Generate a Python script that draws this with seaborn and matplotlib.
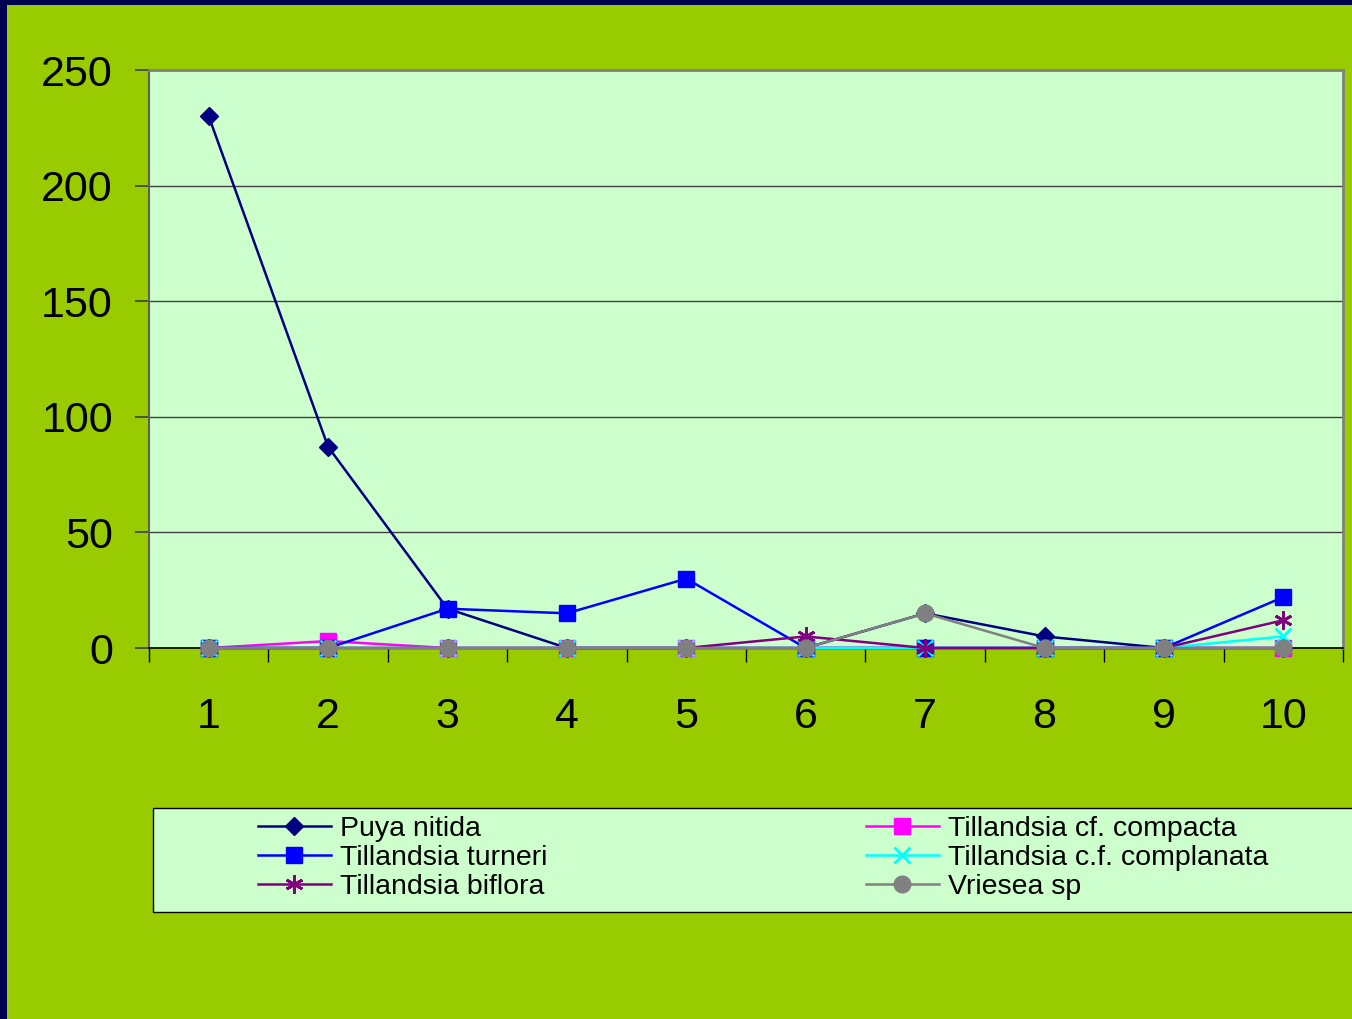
import numpy as np
import pandas as pd
import matplotlib
matplotlib.use("Agg")
import matplotlib.pyplot as plt
import seaborn as sns
from matplotlib.patches import Rectangle
from matplotlib.ticker import FixedLocator

# data
sites = [1, 2, 3, 4, 5, 6, 7, 8, 9, 10]
puya_nitida = [230, 87, 17, 0, 0, 0, 15, 5, 0, 0]
tillandsia_compacta = [0, 3, 0, 0, 0, 0, 0, 0, 0, 0]
tillandsia_turneri = [0, 0, 17, 15, 30, 0, 0, 0, 0, 22]
tillandsia_complanata = [0, 0, 0, 0, 0, 0, 0, 0, 0, 5]
tillandsia_biflora = [0, 0, 0, 0, 0, 5, 0, 0, 0, 12]
vriesea_sp = [0, 0, 0, 0, 0, 0, 15, 0, 0, 0]
y_ticks = [0, 50, 100, 150, 200, 250]

series = [
    ("Puya nitida", puya_nitida, "#000080", "D", 9.5),
    ("Tillandsia cf. compacta", tillandsia_compacta, "#FF00FF", "s", 11),
    ("Tillandsia turneri", tillandsia_turneri, "#0000FF", "s", 11),
    ("Tillandsia c.f. complanata", tillandsia_complanata, "#00FFFF", "x", 11),
    ("Tillandsia biflora", tillandsia_biflora, "#800080", (6, 2, 0), 13),
    ("Vriesea sp", vriesea_sp, "#808080", "o", 12),
]

plt.rcParams['font.family'] = ['Liberation Sans', 'DejaVu Sans']

fig = plt.figure(figsize=(13.52, 10.19), dpi=100, facecolor="#99CC00")
ax = fig.add_axes([149 / 1352, 1 - 648 / 1019, (1343 - 149) / 1352, (648 - 70) / 1019])
ax.set_facecolor("#CCFFCC")

for name, vals, color, marker, ms in series:
    df = pd.DataFrame({"site": sites, "count": vals})
    sns.lineplot(data=df, x="site", y="count", ax=ax, color=color, marker=marker,
                 markersize=ms, markeredgecolor=color,
                 markeredgewidth=2 if marker in ("x", (6, 2, 0)) else 1,
                 linewidth=1.8, label=name, clip_on=False, zorder=3)

ax.set_xlim(0.5, 10.5)
ax.set_ylim(0, 250)
ax.set_xlabel("")
ax.set_ylabel("")

ax.set_xticks(sites)
ax.set_xticklabels([str(s) for s in sites], fontsize=31)
ax.xaxis.set_minor_locator(FixedLocator(np.arange(0.5, 11, 1)))
ax.tick_params(axis="x", which="major", length=0, pad=35)
ax.tick_params(axis="x", which="minor", length=10, width=1, color="black", direction="out")

ax.set_yticks(y_ticks)
ax.set_yticklabels([str(v) for v in y_ticks], fontsize=31)
ax.tick_params(axis="y", length=10, width=1.2, color="#404040", direction="out", pad=16)

ax.grid(axis="y", color="#404040", linewidth=1)
ax.set_axisbelow(True)

for side in ("top", "right"):
    ax.spines[side].set_color("#808080")
    ax.spines[side].set_linewidth(2)
ax.spines["left"].set_color("#606060")
ax.spines["left"].set_linewidth(1.5)
ax.spines["bottom"].set_color("black")
ax.spines["bottom"].set_linewidth(1.2)
ax.spines["bottom"].set_zorder(2.5)

handles, labels = ax.get_legend_handles_labels()
ax.get_legend().remove()
lookup = dict(zip(labels, handles))

# legend box
fig.patches.append(Rectangle((153 / 1352, 1 - 912 / 1019), 1.0, (912 - 808) / 1019,
                             transform=fig.transFigure, facecolor="#CCFFCC",
                             edgecolor="black", linewidth=1, zorder=0))

left_names = ["Puya nitida", "Tillandsia turneri", "Tillandsia biflora"]
right_names = ["Tillandsia cf. compacta", "Tillandsia c.f. complanata", "Vriesea sp"]
for names, xpos in ((left_names, 258), (right_names, 866)):
    fig.legend([lookup[n] for n in names], names, loc="center left",
               bbox_to_anchor=(xpos / 1352, 1 - 858 / 1019), frameon=False,
               fontsize=20.5, borderpad=0, borderaxespad=0, handlelength=2.55,
               handletextpad=0.33, labelspacing=0.1)

# dark border on the left and top edges
fig.patches.append(Rectangle((0, 0), 7 / 1352, 1, transform=fig.transFigure,
                             facecolor="#000050", edgecolor="none"))
fig.patches.append(Rectangle((0, 1 - 5 / 1019), 1, 5 / 1019, transform=fig.transFigure,
                             facecolor="#000050", edgecolor="none"))

fig.savefig("out.png", dpi=100, facecolor=fig.get_facecolor())
